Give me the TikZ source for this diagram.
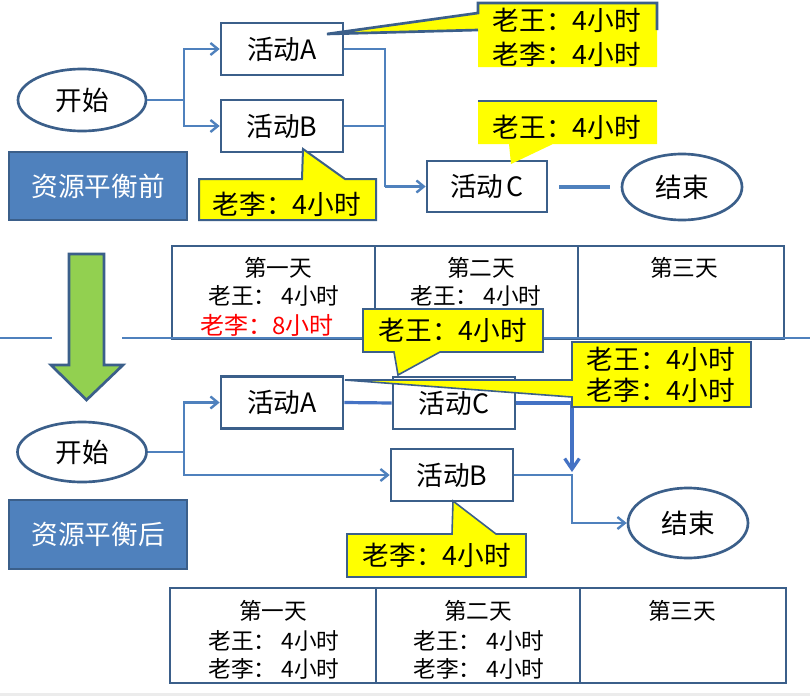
\documentclass[tikz,border=0pt]{standalone}
\usepackage{fontspec}
\setmainfont{Noto Sans CJK SC}
\usetikzlibrary{arrows.meta,shapes.geometric}
\definecolor{bdr}{HTML}{3B5F8A}
\definecolor{connc}{HTML}{4F81BD}
\definecolor{connB}{HTML}{4472C4}
\definecolor{grn}{HTML}{92D050}
\definecolor{ylw}{HTML}{FFFF00}
\definecolor{phasefill}{HTML}{4F81BD}
\begin{document}
\begin{tikzpicture}[x=0.75pt,y=-0.75pt,
  bigfont/.style={font=\fontsize{20}{24}\selectfont},
  actbox/.style={draw=bdr,line width=2pt,fill=white,minimum width=91.5pt,minimum height=39pt,inner sep=0pt,bigfont},
  oval/.style={ellipse,draw=bdr,line width=2pt,fill=white,minimum width=96pt,minimum height=46.5pt,inner sep=0pt,bigfont},
  phase/.style={draw=bdr,line width=2pt,fill=phasefill,text=white,minimum width=133.5pt,minimum height=51pt,inner sep=0pt,bigfont},
  cell/.style={draw=bdr,line width=2pt,inner sep=0pt},
  celltext/.style={inner sep=0pt,font=\fontsize{17}{20}\selectfont},
  calltext/.style={inner sep=0pt,bigfont},
  callfill/.style={fill=ylw},
  callline/.style={draw=bdr,line width=1.2pt,line join=miter},
  conn/.style={draw=connc,line width=1.8pt},
  tipped/.style={-{Straight Barb[length=5.5pt,width=9pt]}},
  heavy/.style={draw=connB,line width=2.4pt},
  heavytip/.style={-{Straight Barb[length=8pt,width=11pt]}},
]
\useasboundingbox (0,0) rectangle (810,696);
\fill[white] (0,0) rectangle (810,696);
\fill[gray!15] (0,693) rectangle (810,696);

% ---------------- top section ----------------
\node[oval] (S1) at (82,100) {开始};
\node[actbox] (A1) at (282,49) {活动A};
\node[actbox] (B1) at (282,126) {活动B};
\node[actbox,minimum width=90pt,minimum height=38.25pt] (C1) at (487,186.5) {活动\kern0.12em C};
\node[oval,minimum width=90pt,minimum height=49.5pt] (E1) at (682,187) {结束};
\node[phase] (P1) at (98,186) {资源平衡前};

\coordinate (J1) at (184,100);
\coordinate (J2) at (385,186.5);
\draw[conn] (S1.east) -- (J1);
\draw[conn,tipped] (J1) |- (A1.west);
\draw[conn,tipped] (J1) |- (B1.west);
\draw[conn] (A1.east) -| (J2);
\draw[conn] (B1.east) -- (B1.east -| J2);
\draw[conn,tipped] (J2) -- (C1.west);
\draw[draw=connc,line width=3pt,shorten <=8.25pt,shorten >=8.25pt] (C1.east) -- (C1.east -| E1.west);

% callout for A (top)
\fill[callfill] (478,3) -- (657,3) -- (657,67) -- (478,67) -- (478,30) -- (327,34) -- (478,13) -- cycle;
\draw[callline,line width=2pt] (657,30) -- (657,3) -- (478,3) -- (478,13) -- (327,34) -- (478,30);
\node[calltext] (TA1) at (567,20) {老王：4小时};
\node[calltext] (TA2) at (567,54) {老李：4小时};

% callout for C (top)
\fill[callfill] (478,101) -- (657,101) -- (657,144) -- (553,144) -- (511,164) -- (509,144) -- (478,144) -- cycle;
\draw[callline,line width=2pt] (478,101) -- (657,101);
\node[calltext] (TC1) at (567,127) {老王：4小时};

% callout for B (top)
\filldraw[callfill,callline,line width=1.5pt] (199,179) -- (302,179) -- (303,149) -- (345,179) -- (376,179) -- (376,220) -- (199,220) -- cycle;
\node[calltext] (TB1) at (287,204) {老李：4小时};

% ---------------- top table ----------------
\node[cell,minimum width=152.25pt,minimum height=69.75pt] (D1) at (273.5,292.5) {};
\node[cell,minimum width=152.25pt,minimum height=69.75pt] (D2) at (476.5,292.5) {};
\node[cell,minimum width=154.5pt,minimum height=69.75pt] (D3) at (681,292.5) {};
\node[celltext] (D1a) at (278,268) {第一天};
\node[celltext] (D1b) at (274,296) {老王： 4小时};
\node[celltext,text=red,font=\fontsize{18}{20}\selectfont] (D1c) at (267,325) {老李：8小时};
\node[celltext] (D2a) at (481,268) {第二天};
\node[celltext] (D2b) at (476,296) {老王： 4小时};
\node[celltext] (D3a) at (684,268) {第三天};

% divider and green arrow
\draw[draw=connc,line width=1pt] (0,338) -- (52,338);
\draw[draw=connc,line width=1pt] (122,338) -- (810,338);
\filldraw[fill=grn,draw=bdr,line width=2pt,line join=miter] (69,254) -- (104,254) -- (104,365) -- (123,365) -- (86.5,400) -- (51,365) -- (69,365) -- cycle;

% ---------------- bottom section ----------------
\node[oval,minimum width=96.75pt,minimum height=45pt] (S2) at (82,452) {开始};
\node[actbox] (A2) at (282,402.5) {活动A};
\node[actbox] (C2) at (454,403) {活动C};
\node[actbox] (B2) at (452,475) {活动B};
\node[oval,minimum width=90pt,minimum height=52.5pt] (E2) at (688,523) {结束};
\node[phase,minimum height=51.75pt] (P2) at (98,534.5) {资源平衡后};

\coordinate (J3) at (184,452);
\coordinate (J4) at (572,472);
\draw[conn] (S2.east) -- (J3);
\draw[conn,tipped] (J3) |- (A2.west);
\draw[conn,tipped] (J3) |- (B2.west);
\draw[heavy] (A2.east) -- (C2.west);
\draw[heavy,heavytip] (C2.east) -| (J4);
\draw[conn,tipped] (B2.east) -| (J4 |- E2.west) -- (E2.west);

% callout for C (bottom)
\filldraw[callfill,callline] (363,309) -- (543,309) -- (543,352) -- (440,352) -- (398,375) -- (394,352) -- (363,352) -- cycle;
\node[calltext] (TC2) at (453,330) {老王：4小时};

% callout for A (bottom)
\filldraw[callfill,callline] (572,342) -- (751,342) -- (751,407) -- (572,407) -- (572,397) -- (345,380) -- (572,380) -- cycle;
\node[calltext] (TA3) at (661,359) {老王：4小时};
\node[calltext] (TA4) at (661,390) {老李：4小时};

% callout for B (bottom)
\filldraw[callfill,callline] (347,534) -- (452,534) -- (453,501) -- (496,534) -- (526,534) -- (526,577) -- (347,577) -- cycle;
\node[calltext] (TB2) at (437,555) {老李：4小时};

% ---------------- bottom table ----------------
\node[cell,minimum width=154.5pt,minimum height=71.25pt] (F1) at (273,635.5) {};
\node[cell,minimum width=153pt,minimum height=71.25pt] (F2) at (478,635.5) {};
\node[cell,minimum width=154.5pt,minimum height=71.25pt] (F3) at (683,635.5) {};
\node[celltext] (F1a) at (273,611) {第一天};
\node[celltext] (F1b) at (274,641) {老王： 4小时};
\node[celltext] (F1c) at (274,669) {老李： 4小时};
\node[celltext] (F2a) at (478,611) {第二天};
\node[celltext] (F2b) at (479,641) {老王： 4小时};
\node[celltext] (F2c) at (479,669) {老李： 4小时};
\node[celltext] (F3a) at (682,611) {第三天};
\end{tikzpicture}
\end{document}
